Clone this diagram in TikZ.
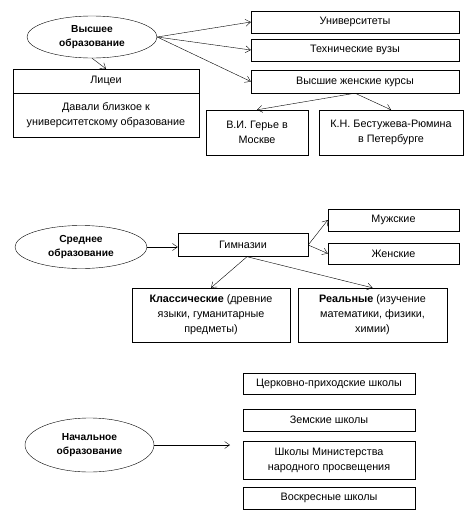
\documentclass[tikz,border=0pt]{standalone}
\usepackage{fontspec}
\setmainfont{Liberation Sans}
\usetikzlibrary{arrows.meta,shapes.geometric}

\begin{document}
\begin{tikzpicture}[x=1pt,y=-1pt,>={Straight Barb[length=5pt,width=7pt]},
  font=\fontsize{10.8}{15}\selectfont,
  lvl/.style={draw,ellipse,inner sep=0pt,align=center,font=\fontsize{10.2}{14}\selectfont\bfseries},
  box/.style={draw,rectangle,inner sep=1pt,align=center}]
\useasboundingbox (0,0) rectangle (474,512);
% higher education
\node[lvl,minimum width=130,minimum height=42] (vs) at (92,37) {Высшее\\образование};
\node[box,minimum width=208,minimum height=22] (univ) at (355,22) {Университеты};
\node[box,minimum width=208,minimum height=22] (tech) at (355,50) {Технические вузы};
\node[box,minimum width=208,minimum height=23] (vzhk) at (355,81.5) {Высшие женские курсы};
\node[box,minimum width=186,minimum height=24] (lyc) at (106,81) {Лицеи};
\node[box,minimum width=186,minimum height=44] (lycd) at (106,115) {Давали близкое к\\университетскому образование};
\node[box,minimum width=102,minimum height=45] (gerie) at (257,132.5) {В.И. Герье в\\Москве};
\node[box,minimum width=144,minimum height=45] (best) at (391,132.5) {К.Н. Бестужева-Рюмина\\в Петербурге};
\foreach \b in {univ,tech,vzhk} \draw[->] (vs.east)--(\b.west);
\draw[->] (vs.south)--(lyc.north);
\foreach \b in {gerie,best} \draw[->] (vzhk.south)--(\b.north);
% secondary education
\node[lvl,minimum width=132,minimum height=43] (sr) at (81,247) {Среднее\\образование};
\node[box,minimum width=130,minimum height=23] (gimn) at (243,245) {Гимназии};
\node[box,minimum width=131,minimum height=22] (muzh) at (393.5,220) {Мужские};
\node[box,minimum width=131,minimum height=21] (zhen) at (393.5,253.5) {Женские};
\node[box,minimum width=158,minimum height=54] (klass) at (211,315) {\textbf{Классические} (древние\\языки, гуманитарные\\предметы)};
\node[box,minimum width=149,minimum height=54] (real) at (372.5,315) {\textbf{Реальные} (изучение\\математики, физики,\\химии)};
\draw[->] (sr.east)--(sr.east -| gimn.west);
\foreach \b in {muzh,zhen} \draw[->] (gimn.east)--(\b.west);
\foreach \b in {klass,real} \draw[->] ([xshift=4pt]gimn.south)--(\b.north);
% primary education
\node[lvl,minimum width=129,minimum height=54] (nach) at (89.5,445) {Начальное\\образование};
\node[box,minimum width=172,minimum height=21] (church) at (329,383.5) {Церковно-приходские школы};
\node[box,minimum width=172,minimum height=22] (zemsk) at (329,420) {Земские школы};
\node[box,minimum width=172,minimum height=38] (minist) at (329,460) {Школы Министерства\\народного просвещения};
\node[box,minimum width=172,minimum height=22] (voskr) at (329,498) {Воскресные школы};
\coordinate (nachend) at (230,445);
\draw[->] (nach.east)--(nachend);
\end{tikzpicture}
\end{document}
